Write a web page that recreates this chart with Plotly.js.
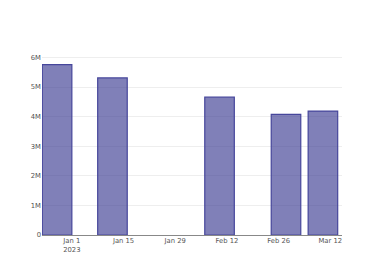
<!DOCTYPE html>
<html>
<head>
<meta charset="utf-8">
<script src="https://cdn.plot.ly/plotly-3.0.1.min.js"></script>
<style>html,body{margin:0;padding:0;background:#fff;}#chart{width:380px;height:280px;}</style>
</head>
<body>
<div id="chart"></div>
<script>
const dates = ['2022-12-28', '2023-01-12', '2023-02-10', '2023-02-28', '2023-03-10'];
const values = [5760000, 5310000, 4660000, 4080000, 4190000];
const xRange = ['2022-12-23 22:00', '2023-03-15 04:00'];
const yRange = [0, 6050000];

const trace = {
  type: 'bar',
  x: dates,
  y: values,
  marker: {
    color: 'rgba(50,50,140,0.62)',
    line: {color: 'rgb(70,70,155)', width: 1.2}
  },
  hoverinfo: 'none'
};

const layout = {
  width: 380,
  height: 280,
  margin: {l: 42, r: 38, t: 56, b: 45},
  paper_bgcolor: '#fff',
  plot_bgcolor: '#fff',
  font: {family: 'DejaVu Sans, sans-serif', size: 6.8, color: '#555'},
  showlegend: false,
  bargap: 0.2,
  xaxis: {
    type: 'date',
    range: xRange,
    showgrid: false,
    tick0: '2023-01-01',
    dtick: 14 * 86400000,
    ticks: '',
    zeroline: false
  },
  yaxis: {
    range: yRange,
    dtick: 1000000,
    tickformat: '~s',
    gridcolor: '#eee',
    zeroline: true,
    zerolinecolor: '#888',
    zerolinewidth: 1
  }
};

Plotly.newPlot('chart', [trace], layout, {staticPlot: true, displayModeBar: false});
</script>
</body>
</html>
